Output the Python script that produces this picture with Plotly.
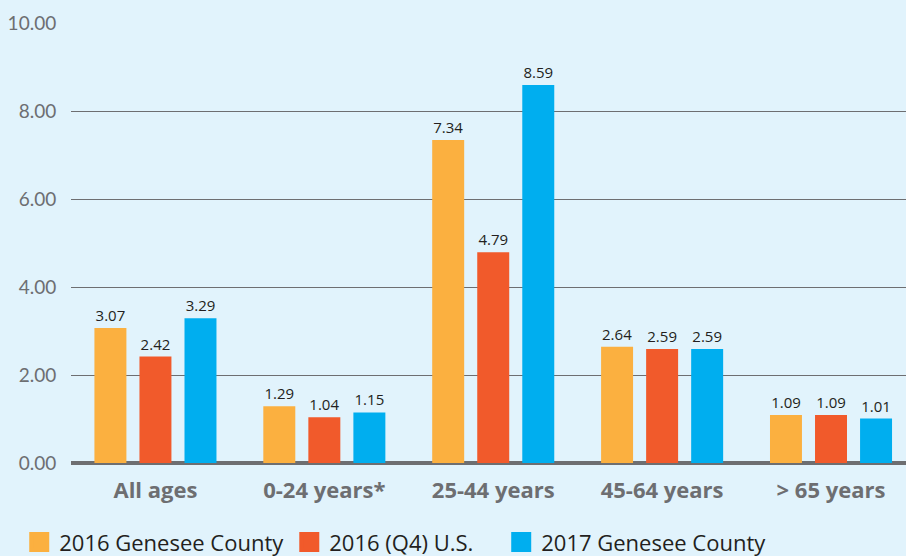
import plotly.graph_objects as go

categories = ["All ages", "0-24 years*", "25-44 years", "45-64 years", "> 65 years"]
series_names = ["2016 Genesee County", "2016 (Q4) U.S.", "2017 Genesee County"]
genesee_2016 = [3.07, 1.29, 7.34, 2.64, 1.09]
us_2016 = [2.42, 1.04, 4.79, 2.59, 1.09]
genesee_2017 = [3.29, 1.15, 8.59, 2.59, 1.01]
y_ticks = [0, 2, 4, 6, 8, 10]

colors = ["#fbb040", "#f15a2b", "#00aeef"]
bg = "#e1f3fc"
grey = "#6d6e71"

fig = go.Figure()
for name, vals, col in zip(series_names, [genesee_2016, us_2016, genesee_2017], colors):
    fig.add_trace(go.Bar(
        x=categories, y=vals, name=name, showlegend=False,
        marker=dict(color=col, line=dict(width=0)),
        texttemplate="%{y:.2f}", textposition="outside",
        textfont=dict(family="Open Sans", size=15, color="#231f20"),
        cliponaxis=False,
    ))
# legend entries with square swatches
legend_pad = ["", "\u00a0\u00a0\u00a0\u00a0", ""]
for name, col, pad in zip(series_names, colors, legend_pad):
    fig.add_trace(go.Scatter(
        x=[None], y=[None], mode="markers", name=name + pad,
        marker=dict(symbol="square", size=16, color=col,
                    line=dict(color=col, width=4)),
    ))

fig.update_layout(
    width=906, height=556,
    paper_bgcolor=bg, plot_bgcolor=bg,
    margin=dict(l=71, r=0, t=23, b=93, autoexpand=False),
    barmode="group", bargap=0.2, bargroupgap=0.29,
    xaxis=dict(
        range=[-0.5, 4.444],
        showgrid=False, showline=False, zeroline=False,
        ticks="outside", ticklen=8, tickcolor="rgba(0,0,0,0)",
        tickfont=dict(family="Open Sans", size=22, color=grey, weight="bold"),
    ),
    yaxis=dict(
        range=[0, 10], tickvals=y_ticks, tickformat=".2f",
        showgrid=True, gridcolor=grey, gridwidth=1,
        zeroline=True, zerolinecolor=grey, zerolinewidth=4,
        showline=False,
        ticks="outside", ticklen=10, tickcolor="rgba(0,0,0,0)",
        tickfont=dict(family="Lato", size=19, color=grey),
    ),
    legend=dict(
        orientation="h", x=-0.062, xanchor="left", y=-0.18, yanchor="middle",
        font=dict(family="Open Sans", size=22, color="#231f20"),
        bgcolor="rgba(0,0,0,0)",
        traceorder="normal",
    ),
    showlegend=True,
)

fig.write_html(
    "out.html",
    config={"displayModeBar": False},
    post_script="document.body.style.margin='0px';document.body.style.padding='0px';document.body.style.overflow='hidden';",
)
